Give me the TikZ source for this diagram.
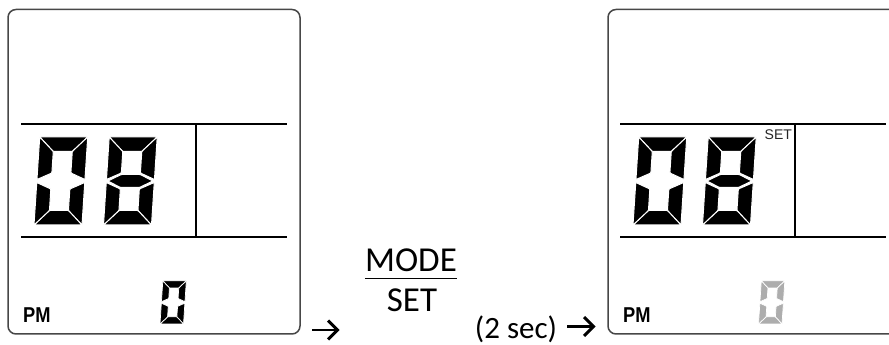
\documentclass[tikz,border=0pt]{standalone}
\usepackage{fontspec}
\setmainfont{Carlito}
\newfontfamily\arialf{Liberation Sans}
\usetikzlibrary{calc}
\tikzset{
  seg/.style={fill=black, draw=white, line width=1pt, rounded corners=0.8pt},
  seggray/.style={fill=black!32, draw=white, line width=0.7pt, rounded corners=0.5pt},
  smallseg/.style={fill=black, draw=white, line width=0.7pt, rounded corners=0.5pt},
  frame/.style={draw=black!72, line width=1.5pt, rounded corners=8pt},
  rulel/.style={draw=black, line width=2pt},
  lbl/.style={inner sep=0pt, font=\fontsize{35}{38}\selectfont},
  pm/.style={inner sep=0pt, anchor=base west, xscale=0.85, font=\arialf\bfseries\fontsize{21.5}{23}\selectfont},
  settag/.style={inner sep=0pt, anchor=base west, text=black!85, font=\arialf\fontsize{14}{16}\selectfont},
  arrline/.style={line width=2.9pt, line join=miter, line cap=butt},
}
\newcommand\sgA[1]{\filldraw[#1] (0,88)--(48,88)--(33.5,73.5)--(14.5,73.5)--cycle;}
\newcommand\sgB[1]{\filldraw[#1] (48,88)--(48,45.5)--(33.5,52)--(33.5,73.5)--cycle;}
\newcommand\sgC[1]{\filldraw[#1] (48,42.5)--(48,0)--(33.5,14.5)--(33.5,36)--cycle;}
\newcommand\sgD[1]{\filldraw[#1] (0,0)--(48,0)--(33.5,14.5)--(14.5,14.5)--cycle;}
\newcommand\sgE[1]{\filldraw[#1] (0,0)--(0,42.5)--(14.5,36)--(14.5,14.5)--cycle;}
\newcommand\sgF[1]{\filldraw[#1] (0,88)--(0,45.5)--(14.5,52)--(14.5,73.5)--cycle;}
\newcommand\sgG[1]{\filldraw[#1] (1.5,44)--(14.5,50.5)--(33.5,50.5)--(46.5,44)--(33.5,37.5)--(14.5,37.5)--cycle;}
\newcommand\digZero[1]{\sgA{#1}\sgB{#1}\sgC{#1}\sgD{#1}\sgE{#1}\sgF{#1}}
\newcommand\digEight[1]{\digZero{#1}\sgG{#1}}
\begin{document}
\begin{tikzpicture}[x=1pt, y=1pt]
\useasboundingbox (0,0) rectangle (889,345);
\clip (0,0) rectangle (889,345);
\fill[white] (0,0) rectangle (889,345);

% ---------- left panel ----------
\draw[frame] (8,11) rectangle (300,335.5);
\draw[rulel] (21,221) -- (287,221);
\draw[rulel] (21,108) -- (287,108);
\draw[rulel] (196,221) -- (196,108);
\begin{scope}[shift={(34,120)}, xslant=0.065]
  \digZero{seg}
\end{scope}
\begin{scope}[shift={(103.5,120)}, xslant=0.065]
  \digEight{seg}
\end{scope}
\begin{scope}[shift={(160,21)}, xslant=0.065, scale=0.49]
  \digZero{smallseg}
\end{scope}
\node[pm] (pmL) at (23,22) {PM};

% ---------- arrows and labels ----------
\coordinate (a1s) at (312,15);
\coordinate (a1e) at (337.5,15);
\draw[arrline] (a1s) -- ($(a1e)+(-2,0)$);
\draw[arrline] ($(a1e)+(-9.5,9.5)$) -- (a1e) -- ($(a1e)+(-9.5,-9.5)$);
\node[lbl, anchor=base] (mode) at (411,73) {MODE};
\node[lbl, anchor=base] (set) at (412,33.5) {SET};
\draw[line width=1.8pt] (mode.south west |- 0,66.5) -- (mode.south east |- 0,66.5);
\node[lbl, anchor=base, font=\fontsize{31}{33}\selectfont] (sec) at (516,6.5) {(2 sec)};
\coordinate (a2s) at (567,18.5);
\coordinate (a2e) at (593.5,18.5);
\draw[arrline] (a2s) -- ($(a2e)+(-2,0)$);
\draw[arrline] ($(a2e)+(-9.5,9.5)$) -- (a2e) -- ($(a2e)+(-9.5,-9.5)$);

% ---------- right panel ----------
\draw[frame] (608,11) rectangle (900,335.5);
\draw[rulel] (620,221) -- (886,221);
\draw[rulel] (620,108) -- (886,108);
\draw[rulel] (795,221) -- (795,108);
\begin{scope}[shift={(633,120)}, xslant=0.065]
  \digZero{seg}
\end{scope}
\begin{scope}[shift={(702.5,120)}, xslant=0.065]
  \digEight{seg}
\end{scope}
\node[settag] (setR) at (764.5,205) {SET};
\begin{scope}[shift={(758.5,21)}, xslant=0.065, scale=0.49]
  \digZero{seggray}
\end{scope}
\node[pm] (pmR) at (623,22) {PM};
\end{tikzpicture}
\end{document}
